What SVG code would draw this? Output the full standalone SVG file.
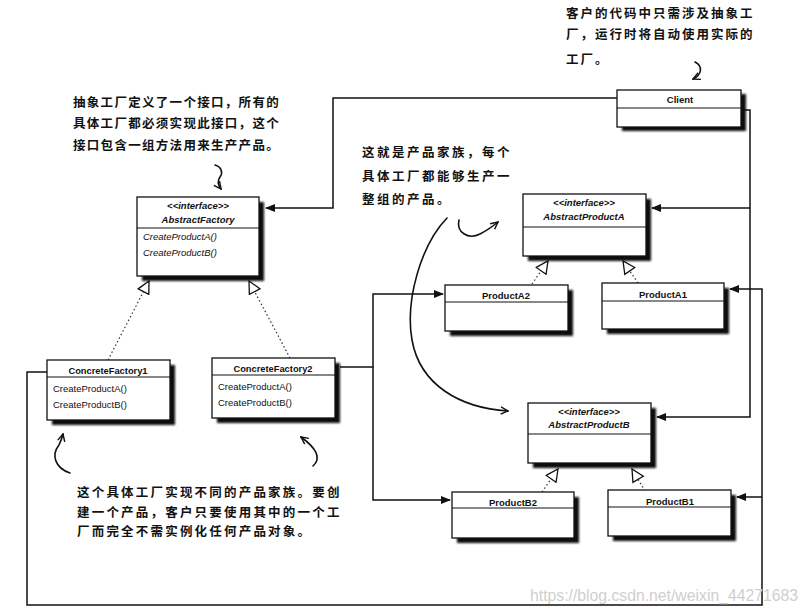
<svg xmlns="http://www.w3.org/2000/svg" width="810" height="614" viewBox="0 0 810 614">
<defs>
<style>
.bg{fill:#fff}
.box{fill:#fff;stroke:#111;stroke-width:1.3}
.shd{fill:#111;filter:url(#blur)}
.dv{stroke:#111;stroke-width:1}
.t{font-family:"Liberation Sans",Arial,sans-serif;font-size:9.5px;fill:#111}
.b{font-weight:bold}
.i{font-style:italic}
.c{text-anchor:middle}
.ln{fill:none;stroke:#111;stroke-width:1.5}
.dot{fill:none;stroke:#333;stroke-width:1.2;stroke-dasharray:1.5 2.5}
.hand{fill:none;stroke:#111;stroke-width:1.6;stroke-linecap:round}
.cn{font-family:"Noto Sans CJK SC","Noto Sans CJK JP",sans-serif;font-weight:bold;fill:#111;font-size:12.5px}
.wm{font-family:"Liberation Sans",Arial,sans-serif;font-size:16px;fill:#cfcfcf}
</style>
<filter id="blur" x="-10%" y="-10%" width="120%" height="120%"><feGaussianBlur stdDeviation="0.8"/></filter>
<marker id="fa" viewBox="0 0 10 10" refX="9" refY="5" markerWidth="10" markerHeight="10" markerUnits="userSpaceOnUse" orient="auto"><path d="M0,1 L10,5 L0,9 z" fill="#111"/></marker>
<marker id="ht" viewBox="0 0 14 14" refX="13" refY="7" markerWidth="14" markerHeight="14" markerUnits="userSpaceOnUse" orient="auto"><path d="M1,1 L13,7 L1,13 z" fill="#fff" stroke="#111" stroke-width="1.3"/></marker>
<marker id="oc" viewBox="0 0 10 10" refX="9" refY="5" markerWidth="9" markerHeight="9" markerUnits="userSpaceOnUse" orient="auto"><path d="M1,1 L9,5 L1,9" fill="none" stroke="#111" stroke-width="1.6"/></marker>
</defs>
<rect class="bg" x="0" y="0" width="810" height="614"/>

<g id="connectors">
<path class="ln" d="M617,98 H333 V208 H266" marker-end="url(#fa)"/>
<path class="ln" d="M742,110 H750 V417 H657" marker-end="url(#fa)"/>
<path class="ln" d="M750,208 H652" marker-end="url(#fa)"/>
<path class="ln" d="M47,372 H27 V605 H762 V289 H730" marker-end="url(#fa)"/>
<path class="ln" d="M762,497 H737" marker-end="url(#fa)"/>
<path class="ln" d="M340,367 H373 V294 H443" marker-end="url(#fa)"/>
<path class="ln" d="M373,367 V500 H450" marker-end="url(#fa)"/>
<path class="dot" d="M108,360 L149,281" marker-end="url(#ht)"/>
<path class="dot" d="M290,358 L249,281" marker-end="url(#ht)"/>
<path class="dot" d="M532,284 L548,261" marker-end="url(#ht)"/>
<path class="dot" d="M638,283 L623,261" marker-end="url(#ht)"/>
<path class="dot" d="M542,492 L558,469" marker-end="url(#ht)"/>
<path class="dot" d="M645,491 L632,469" marker-end="url(#ht)"/>
</g>

<g id="Client">
<rect class="shd" x="622" y="94" width="124" height="37"/>
<rect class="box" x="617" y="90" width="124" height="37"/>
<line class="dv" x1="617" y1="108" x2="741" y2="108"/>
<text class="t b c" x="680" y="103">Client</text>
</g>

<g id="AbstractFactory">
<rect class="shd" x="142" y="202" width="122" height="79"/>
<rect class="box" x="137" y="197" width="122" height="79"/>
<line class="dv" x1="137" y1="228" x2="259" y2="228"/>
<text class="t b i c" x="198" y="209">&lt;&lt;interface&gt;&gt;</text>
<text class="t b i c" x="198" y="223">AbstractFactory</text>
<text class="t i" x="143" y="240">CreateProductA()</text>
<text class="t i" x="143" y="256">CreateProductB()</text>
</g>

<g id="ConcreteFactory1">
<rect class="shd" x="52" y="365" width="123" height="60"/>
<rect class="box" x="47" y="360" width="123" height="60"/>
<line class="dv" x1="47" y1="377" x2="170" y2="377"/>
<text class="t b c" x="108" y="374" style="font-size:9.3px">ConcreteFactory1</text>
<text class="t" x="53" y="392">CreateProductA()</text>
<text class="t" x="53" y="408">CreateProductB()</text>
</g>

<g id="ConcreteFactory2">
<rect class="shd" x="217" y="363" width="123" height="60"/>
<rect class="box" x="212" y="358" width="123" height="60"/>
<line class="dv" x1="212" y1="375" x2="335" y2="375"/>
<text class="t b c" x="273" y="372" style="font-size:9.3px">ConcreteFactory2</text>
<text class="t" x="218" y="390">CreateProductA()</text>
<text class="t" x="218" y="406">CreateProductB()</text>
</g>

<g id="AbstractProductA">
<rect class="shd" x="528" y="199" width="123" height="62"/>
<rect class="box" x="523" y="194" width="123" height="62"/>
<line class="dv" x1="523" y1="227" x2="646" y2="227"/>
<text class="t b i c" x="584" y="206">&lt;&lt;interface&gt;&gt;</text>
<text class="t b i c" x="584" y="220">AbstractProductA</text>
</g>

<g id="ProductA2">
<rect class="shd" x="450" y="290" width="123" height="46"/>
<rect class="box" x="445" y="285" width="123" height="46"/>
<line class="dv" x1="445" y1="302" x2="568" y2="302"/>
<text class="t b c" x="506" y="299">ProductA2</text>
</g>

<g id="ProductA1">
<rect class="shd" x="607" y="288" width="122" height="46"/>
<rect class="box" x="602" y="283" width="122" height="46"/>
<line class="dv" x1="602" y1="301" x2="724" y2="301"/>
<text class="t b c" x="663" y="298">ProductA1</text>
</g>

<g id="AbstractProductB">
<rect class="shd" x="533" y="408" width="123" height="60"/>
<rect class="box" x="528" y="403" width="123" height="60"/>
<line class="dv" x1="528" y1="434" x2="651" y2="434"/>
<text class="t b i c" x="589" y="415">&lt;&lt;interface&gt;&gt;</text>
<text class="t b i c" x="589" y="428">AbstractProductB</text>
</g>

<g id="ProductB2">
<rect class="shd" x="457" y="497" width="122" height="46"/>
<rect class="box" x="452" y="492" width="122" height="46"/>
<line class="dv" x1="452" y1="508" x2="574" y2="508"/>
<text class="t b c" x="513" y="506">ProductB2</text>
</g>

<g id="ProductB1">
<rect class="shd" x="613" y="495" width="123" height="46"/>
<rect class="box" x="608" y="490" width="123" height="46"/>
<line class="dv" x1="608" y1="507" x2="731" y2="507"/>
<text class="t b c" x="670" y="505">ProductB1</text>
</g>

<g id="annotations">
<text class="cn" x="566" y="18" letter-spacing="2">客户的代码中只需涉及抽象工</text>
<text class="cn" x="566" y="39" letter-spacing="2">厂，运行时将自动使用实际的</text>
<text class="cn" x="566" y="64" letter-spacing="2">工厂。</text>
<path class="hand" d="M695,62 C703,66 702,75 693,79" marker-end="url(#oc)"/>

<text class="cn" x="73" y="107" letter-spacing="1.3">抽象工厂定义了一个接口，所有的</text>
<text class="cn" x="73" y="128" letter-spacing="1.3">具体工厂都必须实现此接口，这个</text>
<text class="cn" x="73" y="150" letter-spacing="1.3">接口包含一组方法用来生产产品。</text>
<path class="hand" d="M215,165 C222,167 223,173 220,177 C217,181 218,185 221,189" marker-end="url(#oc)"/>

<text class="cn" x="362" y="157" letter-spacing="2.5">这就是产品家族，每个</text>
<text class="cn" x="362" y="181" letter-spacing="2.5">具体工厂都能够生产一</text>
<text class="cn" x="362" y="204" letter-spacing="2.5">整组的产品。</text>
<path class="hand" d="M459,220 C456,232 468,240 480,234 C488,230 493,226 498,222" marker-end="url(#oc)"/>
<path class="hand" d="M447,218 C421,245 405,300 412,340 C420,385 460,408 508,411" marker-end="url(#oc)"/>

<path class="hand" d="M70,473 C55,468 51,455 59,445 C61,441 62,438 63,434" marker-end="url(#oc)"/>
<path class="hand" d="M313,466 C322,458 316,448 301,437" marker-end="url(#oc)"/>
<text class="cn" x="77" y="497" letter-spacing="2.2">这个具体工厂实现不同的产品家族。要创</text>
<text class="cn" x="77" y="517" letter-spacing="2.2">建一个产品，客户只要使用其中的一个工</text>
<text class="cn" x="77" y="536" letter-spacing="2.2">厂而完全不需实例化任何产品对象。</text>
</g>

<text class="wm" x="530" y="601" textLength="268" lengthAdjust="spacingAndGlyphs">https://blog.csdn.net/weixin_44271683</text>
</svg>
